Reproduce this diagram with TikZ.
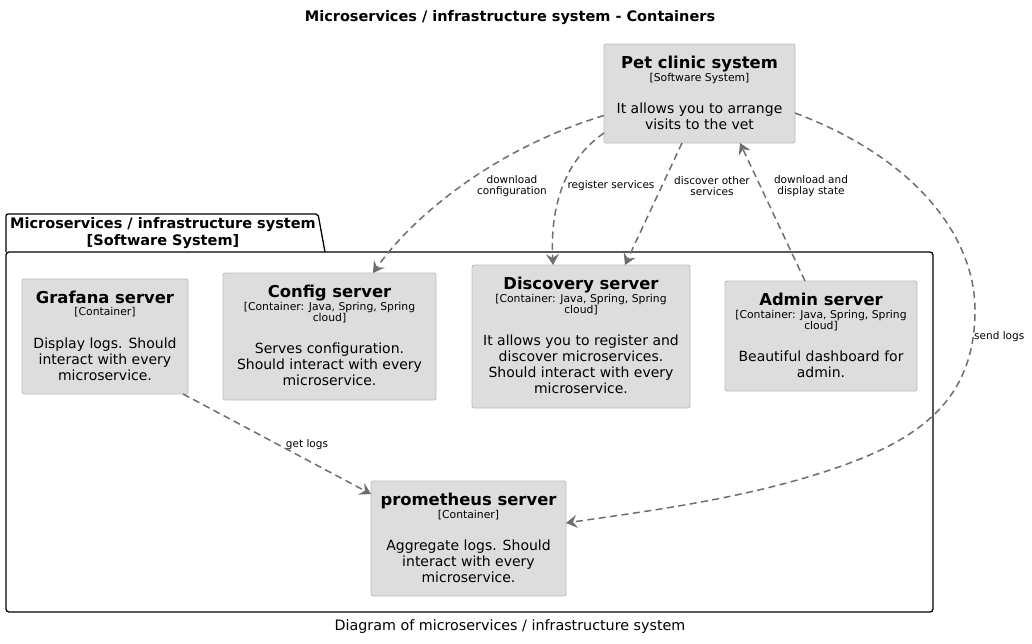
\documentclass[tikz,border=0pt]{standalone}
\usepackage{fontspec}
\setmainfont{DejaVu Sans}
\usetikzlibrary{positioning}
\usetikzlibrary{calc}
\usetikzlibrary{arrows.meta}
\definecolor{boxfill}{HTML}{DDDDDD}
\definecolor{boxline}{HTML}{BDBDBD}
\definecolor{edgegray}{HTML}{6E6E6E}

\begin{document}
\begin{tikzpicture}[x=1pt,y=-1pt]
		\tikzset{
			box/.style={draw=boxline,fill=boxfill,line width=0.8pt,rounded corners=2pt,inner sep=0pt,outer sep=0pt},
			titlenode/.style={anchor=north,inner sep=0pt,align=center,font=\fontsize{16.4}{19}\bfseries\selectfont},
			tagnode/.style={anchor=north,inner sep=0pt,align=center,font=\fontsize{10.8}{11}\selectfont},
			descnode/.style={anchor=north,inner sep=0pt,align=center,font=\fontsize{14}{16}\selectfont},
			labelnode/.style={inner sep=0pt,align=center,font=\fontsize{10.5}{10.5}\selectfont},
		}
		\tikzset{
			edge/.style={color=edgegray,line width=1.5pt,dash pattern=on 7pt off 4.5pt,
				-{Stealth[length=11pt,width=13pt,inset=4pt]}},
		}
		\useasboundingbox (0,0) rectangle (1032,643);
		
		\node[inner sep=0pt,font=\fontsize{14.5}{15}\bfseries\selectfont] (title) at (510,18) {Microservices / infrastructure system - Containers};
		\node[inner sep=0pt,font=\fontsize{14.3}{15}\selectfont] (caption) at (510,627) {Diagram of microservices / infrastructure system};
		
		% package
		\draw[line width=1.3pt,rounded corners=2pt] (6,252) -- (6,214) -- (318,214) -- (325,252);
		\draw[line width=1.3pt,rounded corners=3pt] (6,252) rectangle (933,612);
		\node[inner sep=0pt,align=center,font=\fontsize{14.5}{17}\bfseries\selectfont] (pkg) at (163,233) {Microservices / infrastructure system\\{}[Software System]};
		
		\node[box,minimum width=191pt,minimum height=99pt] (pet) at (699.5,93.5) {};
		\node[titlenode] (petT) at (699.5,55.5) {Pet clinic system};
		\node[tagnode] (petS) at (699.5,73) {[Software System]};
		\node[descnode] (petD) at (699.5,102.5) {It allows you to arrange\\visits to the vet};
		
		\node[box,minimum width=166pt,minimum height=115pt] (grafana) at (105,336.5) {};
		\node[titlenode] (grafanaT) at (105,290.5) {Grafana server};
		\node[tagnode] (grafanaS) at (105,307) {[Container]};
		\node[descnode] (grafanaD) at (105,337.5) {Display logs. Should\\interact with every\\microservice.};
		
		\node[box,minimum width=213pt,minimum height=127pt] (config) at (329.5,336.5) {};
		\node[titlenode] (configT) at (329.5,284.5) {Config server};
		\node[tagnode] (configS) at (329.5,302) {[Container: Java, Spring, Spring\\cloud]};
		\node[descnode] (configD) at (329.5,342.5) {Serves configuration.\\Should interact with every\\microservice.};
		
		\node[box,minimum width=218pt,minimum height=143pt] (discovery) at (581,336.5) {};
		\node[titlenode] (discoveryT) at (581,276.5) {Discovery server};
		\node[tagnode] (discoveryS) at (581,294) {[Container: Java, Spring, Spring\\cloud]};
		\node[descnode] (discoveryD) at (581,334.5) {It allows you to register and\\discover microservices.\\Should interact with every\\microservice.};
		
		\node[box,minimum width=192pt,minimum height=110pt] (admin) at (821,336) {};
		\node[titlenode] (adminT) at (821,292.5) {Admin server};
		\node[tagnode] (adminS) at (821,310) {[Container: Java, Spring, Spring\\cloud]};
		\node[descnode] (adminD) at (821,350.5) {Beautiful dashboard for\\admin.};
		
		\node[box,minimum width=195pt,minimum height=115pt] (prometheus) at (468.5,538.5) {};
		\node[titlenode] (prometheusT) at (468.5,492.5) {prometheus server};
		\node[tagnode] (prometheusS) at (468.5,510) {[Container]};
		\node[descnode] (prometheusD) at (468.5,539.5) {Aggregate logs. Should\\interact with every\\microservice.};
		
		% edge labels
		\node[labelnode] (lConf) at (512,186) {download\\configuration};
		\node[labelnode] (lReg) at (611,186) {register services};
		\node[labelnode] (lDisc) at (712,186) {discover other\\services};
		\node[labelnode] (lAdm) at (811,186) {download and\\display state};
		\node[labelnode,anchor=west] (lSend) at (974,337) {send logs};
		\node[labelnode] (lGet) at (307,445) {get logs};
		
		\draw[edge] ([yshift=-22pt]pet.west) .. controls (490,150) and (410,220) .. ([xshift=43.5pt]config.north);
		\draw[edge] ([yshift=-39.5pt]pet.west) .. controls (565,160) and (550,205) .. ([xshift=-28pt]discovery.north);
		\draw[edge] ([xshift=-17.5pt]pet.south) to ([xshift=44pt]discovery.north);
		\draw[edge] ([xshift=-16pt]admin.north) to ([xshift=40.5pt]pet.south);
		\draw[edge] ([yshift=-19.5pt]pet.east) .. controls (920,160) and (975,240) .. (975,310)
			.. controls (975,400) and (920,440) .. (830,470)
			.. controls (740,500) and (640,512) .. ([yshift=15.5pt]prometheus.east);
		\draw[edge] ([xshift=78pt]grafana.south) to ([yshift=44.5pt]prometheus.west);
	\end{tikzpicture}
\end{document}
